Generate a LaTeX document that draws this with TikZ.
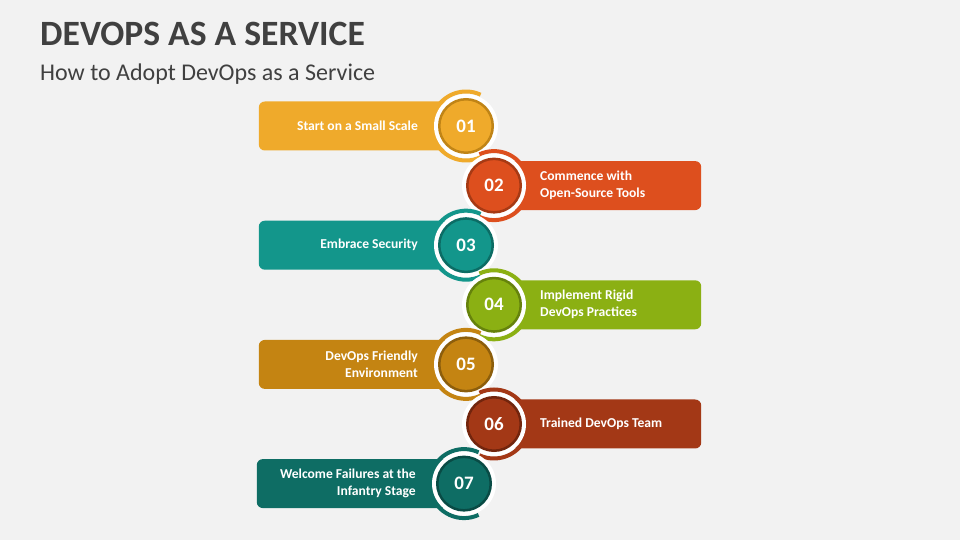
\documentclass[tikz,border=0pt]{standalone}
\usepackage{fontspec}
\setmainfont{Carlito}
\usepackage{xcolor}
\usepackage{tikz}
\usetikzlibrary{positioning}
\definecolor{bgc}{HTML}{F2F2F2}
\definecolor{ink}{HTML}{404040}
\definecolor{sone}{HTML}{EFAA2B}   \definecolor{sonedk}{HTML}{C08416}
\definecolor{stwo}{HTML}{DD4F1E}   \definecolor{stwodk}{HTML}{A63A14}
\definecolor{sthree}{HTML}{13968B} \definecolor{sthreedk}{HTML}{0C6C64}
\definecolor{sfour}{HTML}{8BB013}  \definecolor{sfourdk}{HTML}{66820C}
\definecolor{sfive}{HTML}{C48412}  \definecolor{sfivedk}{HTML}{8C5E0C}
\definecolor{ssix}{HTML}{A33816}   \definecolor{ssixdk}{HTML}{72250D}
\definecolor{sseven}{HTML}{0E6D64} \definecolor{ssevendk}{HTML}{094B45}

\begin{document}
\begin{tikzpicture}[
  x=1pt,y=1pt,
  ttl/.style={anchor=base west,inner sep=0pt,text=ink,font=\fontsize{35.6}{36}\selectfont\bfseries},
  sub/.style={anchor=base west,inner sep=0pt,text=ink,font=\fontsize{24}{24}\selectfont},
  box/.style={rectangle,rounded corners=6pt,minimum width=207pt,minimum height=49pt,inner sep=0pt},
  ring/.style={line width=4pt},
  halo/.style={circle,fill=white,minimum size=64pt,inner sep=0pt},
  num/.style={circle,line width=2.5pt,minimum size=53.5pt,inner sep=0pt,text=white,
              font=\fontsize{19}{19}\selectfont\bfseries},
  lab/.style={text=white,font=\fontsize{13.6}{17}\selectfont\bfseries,inner sep=0pt}]

\fill[bgc] (0,0) rectangle (960,540);
\useasboundingbox (0,0) rectangle (960,540);

% ================= heading =================
\node[ttl] (title) at (40,494) {DEVOPS AS A SERVICE};
\node[sub] (subtitle) at (40,459) {How to Adopt DevOps as a Service};

% ================= step 01 (left) =================
\coordinate (c1) at (466,414);
\node[box,fill=sone,anchor=east] (box1) at (c1) {};
\draw[ring,sone] ([shift={(65:34.5)}]c1) arc[start angle=65,end angle=295,radius=34.5];
\node[halo] (halo1) at (c1) {};
\node[num,fill=sone,draw=sonedk] (num1) at (c1) {01};
\node[lab,align=right,left=20pt of num1] (lab1) {Start on a Small Scale};

% ================= step 02 (right) =================
\coordinate (c2) at (494,354.4);
\node[box,fill=stwo,anchor=west] (box2) at (c2) {};
\draw[ring,stwo] ([shift={(-115:34.5)}]c2) arc[start angle=-115,end angle=115,radius=34.5];
\node[halo] (halo2) at (c2) {};
\node[num,fill=stwo,draw=stwodk] (num2) at (c2) {02};
\node[lab,align=left,right=18pt of num2] (lab2) {Commence with\\Open-Source Tools};

% ================= step 03 (left) =================
\coordinate (c3) at (466,294.8);
\node[box,fill=sthree,anchor=east] (box3) at (c3) {};
\draw[ring,sthree] ([shift={(65:34.5)}]c3) arc[start angle=65,end angle=295,radius=34.5];
\node[halo] (halo3) at (c3) {};
\node[num,fill=sthree,draw=sthreedk] (num3) at (c3) {03};
\node[lab,align=right,left=20pt of num3] (lab3) {Embrace Security};

% ================= step 04 (right) =================
\coordinate (c4) at (494,235.2);
\node[box,fill=sfour,anchor=west] (box4) at (c4) {};
\draw[ring,sfour] ([shift={(-115:34.5)}]c4) arc[start angle=-115,end angle=115,radius=34.5];
\node[halo] (halo4) at (c4) {};
\node[num,fill=sfour,draw=sfourdk] (num4) at (c4) {04};
\node[lab,align=left,right=18pt of num4] (lab4) {Implement Rigid\\DevOps Practices};

% ================= step 05 (left) =================
\coordinate (c5) at (466,175.6);
\node[box,fill=sfive,anchor=east] (box5) at (c5) {};
\draw[ring,sfive] ([shift={(65:34.5)}]c5) arc[start angle=65,end angle=295,radius=34.5];
\node[halo] (halo5) at (c5) {};
\node[num,fill=sfive,draw=sfivedk] (num5) at (c5) {05};
\node[lab,align=right,left=20pt of num5] (lab5) {DevOps Friendly\\Environment};

% ================= step 06 (right) =================
\coordinate (c6) at (494,116);
\node[box,fill=ssix,anchor=west] (box6) at (c6) {};
\draw[ring,ssix] ([shift={(-115:34.5)}]c6) arc[start angle=-115,end angle=115,radius=34.5];
\node[halo] (halo6) at (c6) {};
\node[num,fill=ssix,draw=ssixdk] (num6) at (c6) {06};
\node[lab,align=left,right=18pt of num6] (lab6) {Trained DevOps Team};

% ================= step 07 (left) =================
\coordinate (c7) at (464,56.4);
\node[box,fill=sseven,anchor=east] (box7) at (c7) {};
\draw[ring,sseven] ([shift={(65:34.5)}]c7) arc[start angle=65,end angle=295,radius=34.5];
\node[halo] (halo7) at (c7) {};
\node[num,fill=sseven,draw=ssevendk] (num7) at (c7) {07};
\node[lab,align=right,left=20pt of num7] (lab7) {Welcome Failures at the\\Infantry Stage};
\end{tikzpicture}
\end{document}
